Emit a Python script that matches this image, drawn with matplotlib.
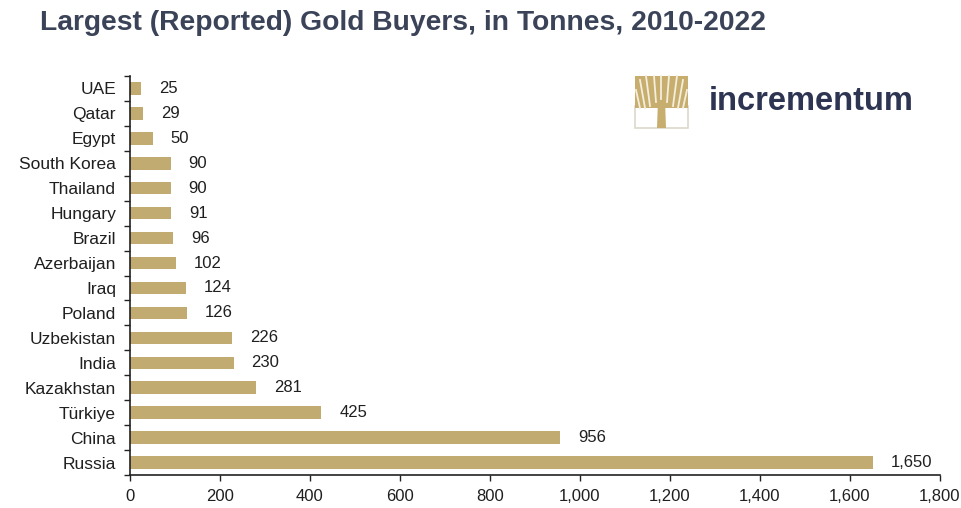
import matplotlib
matplotlib.use("Agg")
import matplotlib.pyplot as plt
from matplotlib.patches import Rectangle, Polygon
from matplotlib.lines import Line2D

countries = ["UAE", "Qatar", "Egypt", "South Korea", "Thailand", "Hungary", "Brazil",
             "Azerbaijan", "Iraq", "Poland", "Uzbekistan", "India", "Kazakhstan",
             "Türkiye", "China", "Russia"]
tonnes = [25, 29, 50, 90, 90, 91, 96, 102, 124, 126, 226, 230, 281, 425, 956, 1650]
xticks = [0, 200, 400, 600, 800, 1000, 1200, 1400, 1600, 1800]

plt.rcParams['font.family'] = ['Liberation Sans', 'DejaVu Sans']

bar_color = "#C2AB71"
text_color = "#1f1f1f"

fig = plt.figure(figsize=(9.61, 5.08), dpi=100)
ax = fig.add_axes([130/961, 1 - 475/508, (940-130)/961, (475-76)/508])

y = list(range(len(countries)))
ax.barh(y, tonnes, height=0.5, color=bar_color, zorder=2)
ax.set_ylim(len(countries) - 0.5, -0.5)
ax.set_xlim(0, 1800)
ax.set_xticks(xticks)
ax.set_xticklabels([f"{v:,}" for v in xticks], fontsize=12, color=text_color)
ax.set_yticks(y)
ax.set_yticklabels(countries, fontsize=12.5, color=text_color)
ax.tick_params(axis='y', length=0, pad=10)
ax.set_yticks([i - 0.5 for i in range(len(countries) + 1)], minor=True)
ax.tick_params(axis='y', which='minor', length=4, width=1, color="#222222")
ax.tick_params(axis='x', length=4, width=1, color="#222222", pad=6)
for s in ["top", "right"]:
    ax.spines[s].set_visible(False)
ax.spines["left"].set_color("#222222")
ax.spines["bottom"].set_color("#222222")
ax.spines["left"].set_linewidth(1.2)
ax.spines["bottom"].set_linewidth(1.2)

for i, v in enumerate(tonnes):
    ax.annotate(f"{v:,}", xy=(v, i), xytext=(13, 0), textcoords="offset points",
                va="center", ha="left", fontsize=12, color=text_color)

fig.text(40/961, 1 - 23/508, "Largest (Reported) Gold Buyers, in Tonnes, 2010-2022",
         fontsize=20.3, fontweight="bold", color="#3B4358", va="center", ha="left")

# logo (tree icon)
gold = "#C7AE6E"
def fx(px):
    return px / 961
def fy(py):
    return 1 - py / 508
# lower box outline
fig.patches.append(Rectangle((fx(635), fy(128)), fx(688) - fx(635), fy(106) - fy(128),
                             transform=fig.transFigure, facecolor="none",
                             edgecolor="#DCD8CC", lw=1.2))
# crown
fig.patches.append(Rectangle((fx(635), fy(108)), fx(688) - fx(635), fy(76) - fy(108),
                             transform=fig.transFigure, facecolor=gold, edgecolor="none"))
# trunk
fig.patches.append(Polygon([(fx(657), fy(128)), (fx(666), fy(128)), (fx(665), fy(100)),
                            (fx(658), fy(100))], closed=True, transform=fig.transFigure,
                           facecolor=gold, edgecolor="none"))
# white gaps between branches
for (x0, y0, x1, y1) in [(640, 108, 636, 90), (645, 108, 640, 80), (650, 106, 646, 76),
                         (656, 102, 654, 76), (661, 99, 661, 76), (667, 102, 669, 76),
                         (673, 106, 677, 76), (678, 108, 683, 80), (683, 108, 687, 90)]:
    fig.lines.append(Line2D([fx(x0), fx(x1)], [fy(y0), fy(y1)], transform=fig.transFigure,
                            color="#F4EEDC", lw=1.3))
fig.text(709/961, 1 - 102/508, "incrementum", fontsize=23.5, fontweight="bold",
         color="#2E3552", va="center", ha="left")

fig.savefig("out.png", dpi=100)
